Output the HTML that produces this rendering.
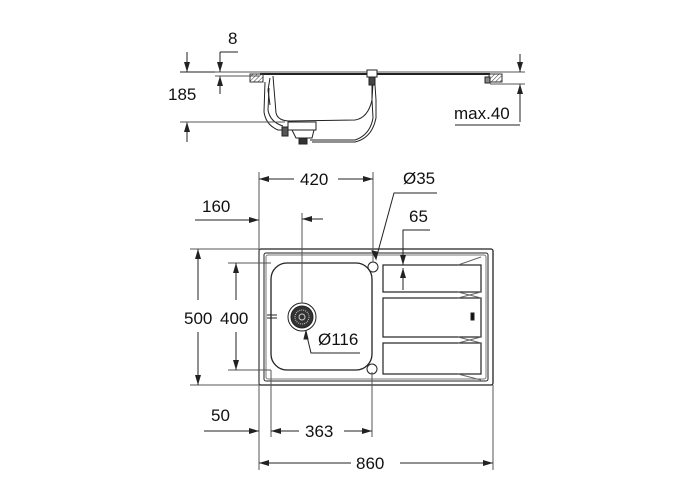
<!DOCTYPE html>
<html><head><meta charset="utf-8"><style>
html,body{margin:0;padding:0;background:#fff;width:700px;height:500px;overflow:hidden}
text{font-family:"Liberation Sans",Arial,sans-serif;font-size:17px;fill:#111}
</style></head><body>
<svg width="700" height="500" viewBox="0 0 700 500" xmlns="http://www.w3.org/2000/svg">
<defs>
<marker id="a" viewBox="0 0 10 6" refX="10" refY="3" markerWidth="10" markerHeight="6" orient="auto-start-reverse" markerUnits="userSpaceOnUse"><path d="M0,0 L10,3 L0,6z" fill="#222"/></marker>
<pattern id="h" width="3" height="3" patternUnits="userSpaceOnUse" patternTransform="rotate(45)"><line x1="0" y1="0" x2="0" y2="3" stroke="#333" stroke-width="1"/></pattern>
</defs>
<g stroke="#222" stroke-width="1" fill="none">
<!-- SIDE VIEW -->
<line x1="215" y1="72" x2="525" y2="72" stroke="#555"/>
<line x1="260" y1="74" x2="490" y2="74" stroke-width="2"/>
<rect x="250" y="74" width="13" height="8" fill="url(#h)" stroke="#333"/>
<rect x="489" y="74" width="13" height="8" fill="url(#h)" stroke="#333"/>
<rect x="485" y="77" width="5" height="6" fill="#888"/>
<path d="M273,76 L276,113 Q278,121 290,121 L355,120 Q368,118 372,100 L373,82"/>
<path d="M270,78 L268,90 L270,105" />
<path d="M265,82 L264,112 Q266,125 278,130 L285,130"/>
<path d="M269,88 L268,110 Q270,122 283,126"/>
<rect x="367" y="70" width="10" height="7" fill="#fff"/>
<rect x="369" y="77" width="6" height="8" fill="#444"/>
<path d="M372,85 L372,100 L373,118 Q370,135 355,140 L310,140"/>
<path d="M375,85 L376,100 L376,118 Q372,138 355,142 L312,142"/>
<rect x="288" y="122" width="28" height="8" fill="#fff"/>
<rect x="282" y="127" width="6" height="9" fill="#555"/>
<path d="M292,130 L296,138 L312,138 L314,130"/>
<rect x="299" y="138" width="8" height="6" fill="#333"/>
<!-- 8 -->
<line x1="220" y1="52" x2="238" y2="52"/>
<line x1="220" y1="52" x2="220" y2="72" marker-end="url(#a)"/>
<line x1="220" y1="94" x2="220" y2="76" marker-end="url(#a)"/>
<line x1="215" y1="76" x2="260" y2="76" stroke="#555"/>
<!-- 185 -->
<line x1="187" y1="52" x2="187" y2="72" marker-end="url(#a)"/>
<line x1="187" y1="142" x2="187" y2="122" marker-end="url(#a)"/>
<line x1="180" y1="72" x2="215" y2="72"/>
<line x1="180" y1="122" x2="285" y2="122" stroke="#555"/>
<!-- max.40 -->
<line x1="520" y1="54" x2="520" y2="72" marker-end="url(#a)"/>
<line x1="520" y1="122" x2="520" y2="84" marker-end="url(#a)"/>
<line x1="490" y1="84" x2="525" y2="84" stroke="#555"/>
<line x1="455" y1="125" x2="520" y2="125"/>

<!-- PLAN VIEW -->
<rect x="259" y="249" width="234" height="136" rx="2" stroke-width="1.3"/>
<rect x="264" y="253" width="224" height="128" rx="2"/>
<rect x="266" y="255" width="220" height="124" rx="2" stroke="#777"/>
<rect x="271" y="263" width="101" height="107" rx="16" stroke-width="1.3"/>
<circle cx="302" cy="317" r="14"/>
<circle cx="302" cy="317" r="11" fill="#333"/>
<circle cx="302" cy="317" r="7" fill="none" stroke="#ccc" stroke-dasharray="1 1"/>
<circle cx="302" cy="317" r="3" fill="none" stroke="#ccc"/>
<circle cx="373" cy="267" r="5"/>
<circle cx="372" cy="369" r="5"/>
<rect x="383" y="265" width="98" height="27" stroke-width="1.2"/>
<rect x="383" y="298" width="98" height="39" stroke-width="1.2"/>
<rect x="383" y="343" width="98" height="31" stroke-width="1.2"/>
<path d="M458,265 L481,257 M458,292 L481,298 M458,298 L481,292 M458,337 L481,343 M458,343 L481,337 M458,374 L481,380" stroke="#666"/>
<rect x="471" y="313" width="3" height="7" fill="#111"/>
<line x1="267" y1="315" x2="277" y2="315"/><line x1="267" y1="318" x2="277" y2="318"/>
<!-- extension lines -->
<line x1="259" y1="172" x2="259" y2="470" stroke="#555"/>
<line x1="493" y1="385" x2="493" y2="470" stroke="#555"/>
<line x1="373" y1="172" x2="373" y2="262" stroke="#555"/>
<line x1="372" y1="372" x2="372" y2="437" stroke="#555"/>
<line x1="271" y1="370" x2="271" y2="437" stroke="#555"/>
<line x1="302" y1="213" x2="302" y2="303" stroke="#555"/>
<line x1="190" y1="249" x2="259" y2="249" stroke="#555"/>
<line x1="190" y1="385" x2="259" y2="385" stroke="#555"/>
<line x1="228" y1="263" x2="271" y2="263" stroke="#555"/>
<line x1="228" y1="370" x2="271" y2="370" stroke="#555"/>
<!-- 420 -->
<line x1="294" y1="179" x2="259" y2="179" marker-end="url(#a)"/>
<line x1="338" y1="179" x2="373" y2="179" marker-end="url(#a)"/>
<!-- 160 -->
<line x1="195" y1="220" x2="259" y2="220" marker-end="url(#a)"/>
<line x1="323" y1="219" x2="302" y2="219" marker-end="url(#a)"/>
<!-- Ø35 -->
<polyline points="437,193 394,193 376,259" />
<path d="M376,259 l-4,-8 l5,1z" fill="#222"/>
<!-- 65 -->
<polyline points="430,230 403,230 403,265" marker-end="url(#a)"/>
<line x1="403" y1="290" x2="403" y2="268" marker-end="url(#a)"/>
<!-- Ø116 -->
<polyline points="360,353 311,353 306,332" />
<path d="M306,331 l-2,8 l4,0z" fill="#222"/>
<!-- 500 / 400 -->
<line x1="198" y1="300" x2="198" y2="249" marker-end="url(#a)"/>
<line x1="198" y1="332" x2="198" y2="385" marker-end="url(#a)"/>
<line x1="236" y1="300" x2="236" y2="263" marker-end="url(#a)"/>
<line x1="236" y1="332" x2="236" y2="370" marker-end="url(#a)"/>
<!-- 50 / 363 -->
<line x1="204" y1="431" x2="259" y2="431" marker-end="url(#a)"/>
<line x1="299" y1="431" x2="271" y2="431" marker-end="url(#a)"/>
<line x1="344" y1="431" x2="372" y2="431" marker-end="url(#a)"/>
<!-- 860 -->
<line x1="351" y1="463" x2="259" y2="463" marker-end="url(#a)"/>
<line x1="400" y1="463" x2="493" y2="463" marker-end="url(#a)"/>
</g>
<text x="228" y="44">8</text>
<text x="168" y="100">185</text>
<text x="454" y="119">max.40</text>
<text x="300" y="185">420</text>
<text x="202" y="212">160</text>
<text x="403" y="184">Ø35</text>
<text x="409" y="222">65</text>
<text x="184" y="324">500</text>
<text x="220" y="324">400</text>
<text x="318" y="345">Ø116</text>
<text x="211" y="421">50</text>
<text x="305" y="437">363</text>
<text x="356" y="469">860</text>
</svg>
</body></html>
